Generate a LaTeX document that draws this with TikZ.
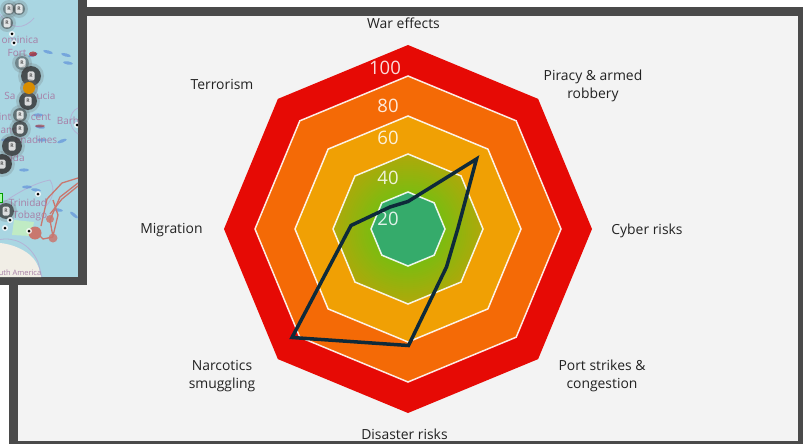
\documentclass[tikz,border=0pt]{standalone}
\usepackage{fontspec}
\setmainfont{Open Sans}
\usetikzlibrary{calc}
\definecolor{frameC}{HTML}{4A4A4A}
\definecolor{panelC}{HTML}{F3F3F3}
\definecolor{seaC}{HTML}{A9D6E2}
\definecolor{landC}{HTML}{F1EEE6}
\definecolor{redC}{HTML}{E60A05}
\definecolor{orangeC}{HTML}{F46A06}
\definecolor{amberC}{HTML}{F0A004}
\definecolor{greenMid}{HTML}{7CBC10}
\definecolor{greenEdge}{HTML}{B0A80A}
\definecolor{coreC}{HTML}{35AB6B}
\definecolor{lineC}{HTML}{0E2A3A}
\definecolor{labelC}{HTML}{222222}
\definecolor{mapText}{HTML}{A77FA6}
\definecolor{routeC}{HTML}{C9776F}
\definecolor{borderC}{HTML}{B3B3D6}
\definecolor{rainC}{HTML}{4C7FD8}
\tikzset{
  x=1pt,y=-1pt,
  axislabel/.style={font=\fontsize{13.9}{18}\selectfont,text=labelC,align=center,inner sep=0pt},
  scalelabel/.style={font=\fontsize{18.5}{20}\selectfont,text=white,text opacity=.85,inner sep=0pt},
  ringline/.style={draw=white,opacity=.9,line width=1.5pt,line join=miter},
  maptext/.style={font=\fontsize{10}{10}\selectfont,text=mapText,inner sep=0pt},
  route/.style={draw=routeC,line width=1.3pt,line join=round},
}
\newcommand{\octa}[1]{(408+#1,229) -- ($(408,229)+(45:#1 and -#1)$) -- (408,229-#1) -- ($(408,229)+(135:#1 and -#1)$) -- (408-#1,229) -- ($(408,229)+(225:#1 and -#1)$) -- (408,229+#1) -- ($(408,229)+(315:#1 and -#1)$) -- cycle}
\begin{document}
\begin{tikzpicture}
\useasboundingbox (0,0) rectangle (803,444);
\fill[white] (0,0) rectangle (803,444);
% main panel
\fill[frameC] (9,7) rectangle (803,444);
\fill[panelC] (18,16) rectangle (798,441);
% radar bands
\fill[redC] \octa{184};
\fill[orangeC] \octa{153};
\fill[amberC] \octa{113};
\begin{scope}
  \clip \octa{75};
  \foreach \r in {76,74,...,36}{
    \pgfmathtruncatemacro{\m}{(\r-36)*100/40}
    \fill[greenEdge!\m!greenMid] (408,229) circle (\r);
  }
\end{scope}
\fill[coreC] \octa{37};
\draw[ringline] \octa{153};
\draw[ringline] \octa{113};
\draw[ringline] \octa{75};
\draw[ringline] \octa{37};
% scale labels
\node[scalelabel] (s100) at (385,68) {100};
\node[scalelabel] (s80) at (388,106) {80};
\node[scalelabel] (s60) at (388,138) {60};
\node[scalelabel] (s40) at (388,178) {40};
\node[scalelabel] (s20) at (388,219) {20};
% axis labels
\node[axislabel] (war) at (403.5,23) {War effects};
\node[axislabel] (piracy) at (593,86) {Piracy \& armed\\robbery};
\node[axislabel] (cyber) at (647,230.5) {Cyber risks};
\node[axislabel] (port) at (602,375.5) {Port strikes \&\\congestion};
\node[axislabel] (disaster) at (404.5,434) {Disaster risks};
\node[axislabel] (narc) at (222,376.5) {Narcotics\\smuggling};
\node[axislabel] (migr) at (171.5,230.5) {Migration};
\node[axislabel] (terr) at (222,84) {Terrorism};
% risk profile
\coordinate (pN) at (408,201.5);
\coordinate (pNE) at (476.5,159);
\coordinate (pE) at (458,228);
\coordinate (pSE) at (446.5,267);
\coordinate (pS) at (408.5,345.5);
\coordinate (pSW) at (292,337.5);
\coordinate (pW) at (351,225.5);
\coordinate (pNW) at (390,207);
\draw[draw=lineC,line width=3.5pt,line join=miter,miter limit=10] (pN) -- (pNE) -- (pE) -- (pSE) -- (pS) -- (pSW) -- (pW) -- (pNW) -- cycle;
% map inset
\fill[frameC] (0,0) rectangle (87,285);
\fill[white] (0,285) rectangle (9,444);
\begin{scope}
  \clip (0,0) rectangle (78,277);
  \fill[seaC] (0,0) rectangle (78,277);
  % land
  \fill[landC] (0,243) .. controls (12,244) and (26,250) .. (33,258) .. controls (38,264) and (40,270) .. (41,277) -- (0,277) -- cycle;
  \fill[green!18!landC,opacity=.8] (14,220) -- (34,222) -- (31,236) -- (12,235) -- cycle;
  \draw[borderC,line width=.8pt] (-2,240) .. controls (14,236) and (30,244) .. (38,262) -- (42,277);
  \draw[borderC,line width=.8pt] (0,205) .. controls (18,192) and (35,183) .. (50,180) .. controls (56,190) and (52,200) .. (46,206);
  \draw[borderC,line width=.8pt] (0,14) .. controls (10,30) and (24,30) .. (34,18);
  \draw[borderC,line width=.8pt] (78,108) .. controls (68,112) and (68,128) .. (78,134);
  % rain
  \foreach \x/\y/\a in {48/52/-15,66/55/-15,68/63/-10,33/55/20,40/127/-10,42/140/0,62/141/20,27/187/0,36/190/-10,38/115/0,6/140/0,24/170/0,58/210/-10,74/215/-40}{
    \fill[rainC,opacity=.55,rotate around={\a:(\x,\y)}] (\x,\y) ellipse (5 and 1.6);
  }
  \fill[red!70!black,opacity=.6] (33,54) ellipse (4 and 2.5);
  \fill[red!70!black,opacity=.45] (40,126) ellipse (5 and 1.5);
  % routes
  \draw[route] (78,178) -- (62,183) -- (47,199) -- (41,226);
  \draw[route] (78,183) -- (60,197) -- (50,220) -- (53,237);
  \draw[route] (78,186) -- (62,199) -- (50,214);
  \draw[route] (53,237) -- (43,239) -- (37,233);
  \draw[route] (53,200) -- (58,215) -- (53,236);
  \fill[routeC] (35,233) circle (6.5);
  \fill[routeC,opacity=.85] (50,219) circle (4);
  \fill[routeC,opacity=.85] (53,238) circle (4.5);
  % place names
  \node[maptext] (mDom) at (20,40) {ominica};
  \node[maptext] (mFort) at (17,53) {Fort};
  \node[maptext] (mLucA) at (10,96) {Sa};
  \node[maptext] (mLucB) at (46,96) {ucia};
  \node[maptext] (mVinA) at (5,117) {int};
  \node[maptext] (mVinB) at (41,117) {cent};
  \node[maptext] (mGr) at (9.5,130) {and};
  \node[maptext] (mGre) at (36,140) {enadines};
  \node[maptext] (mGrd) at (16,158) {ada};
  \node[maptext] (mBar) at (68,121) {Barb};
  \node[maptext] (mTri) at (28,203) {Trinidad};
  \node[maptext] (mTob) at (30,216) {Tobago};
  \node[maptext,font=\fontsize{7.5}{8}\selectfont] (mSA) at (20,273) {uth America};
  % pins
  \foreach \x/\y/\r/\o in {9/9/6/.4,19/9/6/.45,7/23/6/.5,22/63/7/.4,20/115/7/.55,31/76/10/.8,28/101/9/.8,20/129/8/.7,12/146/10/.8,2/164/10/.85,6/211/8/.7}{
    \fill[black!60,opacity=.22] (\x,\y) circle (\r+3);
    \fill[black!80,opacity=\o] (\x,\y) circle (\r);
    \fill[white,opacity=.8,rounded corners=1.5pt] (\x-3.5,\y-4.5) rectangle (\x+3.5,\y+4.5);
    \node[font=\fontsize{5}{5}\selectfont\bfseries,text=black!65,inner sep=0pt] at (\x,\y) {R};
  }
  \fill[black!60,opacity=.4] (29,88) circle (9);
  \fill[orange!70!yellow!85!black] (29,88) circle (6);
  \draw[green!60!black,fill=green!35!white] (-2,193) rectangle (2.5,202);
  \foreach \x/\y in {12/34,14/43,38/194,29/231,10/220,5/228,77/125}{
    \fill[white,opacity=.8] (\x,\y) circle (3);
    \fill[black] (\x,\y) circle (1.5);
  }
\end{scope}
\end{tikzpicture}
\end{document}
